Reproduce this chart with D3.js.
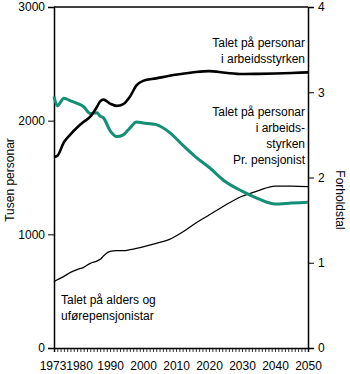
<!DOCTYPE html>
<html lang="en">
<head>
   <meta charset="utf-8">
   <title>Arbeidsstyrken og pensjonistar</title>
   <script src="https://cdn.jsdelivr.net/npm/d3@7/dist/d3.min.js"></script>
   <style type="text/css">
      body { margin: 0; background: #fff; }
      text { font-family: "Liberation Sans", Arial, sans-serif; font-size: 12px; fill: #000; }
   </style>
</head>
<body>
   <script type="text/javascript">

      var w = 350;
      var h = 374;
      var margin = { top: 7, right: 42, bottom: 26, left: 54 };

      // data
      var years = [1973, 1974, 1976, 1978, 1980, 1982, 1984, 1986, 1987, 1988, 1990, 1992, 1994,
                   1996, 1998, 2000, 2004, 2008, 2012, 2016, 2020, 2025, 2030, 2035, 2040, 2045, 2050];
      // thousand persons in the labour force
      var labourForce = [1680, 1690, 1810, 1880, 1940, 1990, 2035, 2120, 2170, 2185, 2150, 2130, 2145,
                         2210, 2310, 2350, 2372, 2395, 2412, 2428, 2436, 2421, 2410, 2412, 2415, 2420, 2425];
      // thousand old age and disability pensioners
      var pensioners = [583, 600, 630, 665, 690, 710, 745, 765, 780, 810, 850, 856, 856,
                        865, 877, 890, 920, 955, 1020, 1100, 1170, 1258, 1335, 1385, 1425, 1425, 1420];
      // labour force per pensioner (right axis)
      var ratio = [2.95, 2.84, 2.93, 2.90, 2.87, 2.83, 2.75, 2.76, 2.72, 2.70, 2.55, 2.48, 2.50,
                   2.58, 2.65, 2.64, 2.62, 2.53, 2.38, 2.24, 2.12, 1.95, 1.84, 1.75, 1.69, 1.70, 1.71];

      var xTickValues = [1973, 1980, 1990, 2000, 2010, 2020, 2030, 2040, 2050];
      var leftTicks = [0, 1000, 2000, 3000];
      var rightTicks = [0, 1, 2, 3, 4];

      var xScale = d3.scaleLinear()
                     .domain([1973, 2050])
                     .range([margin.left, w - margin.right]);

      var yScale = d3.scaleLinear()
                     .domain([0, 3000])
                     .range([h - margin.bottom, margin.top]);

      var rScale = d3.scaleLinear()
                     .domain([0, 4])
                     .range([h - margin.bottom, margin.top]);

      var svg = d3.select("body")
                  .append("svg")
                  .attr("width", w)
                  .attr("height", h);

      var fontFam = "Liberation Sans, Arial, sans-serif";

      // frame top line
      svg.append("line")
         .attr("x1", margin.left).attr("x2", w - margin.right)
         .attr("y1", margin.top).attr("y2", margin.top)
         .attr("stroke", "#000").attr("stroke-width", 1.5);

      // minor year ticks
      var xMinor = d3.axisBottom(xScale)
                     .tickValues(d3.range(1973, 2051))
                     .tickSize(4)
                     .tickFormat("");
      svg.append("g")
         .attr("transform", "translate(0," + (h - margin.bottom) + ")")
         .call(xMinor)
         .call(function(g) {
            g.select(".domain").attr("stroke-width", 1.5);
            g.selectAll(".tick line").attr("stroke-width", 0.8);
         });

      // x labels
      var xAxis = d3.axisBottom(xScale)
                    .tickValues(xTickValues)
                    .tickSize(0)
                    .tickPadding(13)
                    .tickFormat(d3.format("d"));
      svg.append("g")
         .attr("transform", "translate(0," + (h - margin.bottom) + ")")
         .call(xAxis)
         .call(function(g) {
            g.select(".domain").remove();
            g.selectAll("text").attr("font-size", 12).attr("font-family", fontFam)
             .attr("dx", function(d) { return d === 1973 ? -1.5 : (d === 1980 ? 2 : 0); });
         });

      var yAxis = d3.axisLeft(yScale)
                    .tickValues(leftTicks)
                    .tickSize(6)
                    .tickPadding(3)
                    .tickFormat(d3.format("d"));
      svg.append("g")
         .attr("transform", "translate(" + margin.left + ",0)")
         .call(yAxis)
         .call(function(g) {
            g.select(".domain").attr("stroke-width", 1.5);
            g.selectAll("text").attr("font-size", 12).attr("font-family", fontFam);
         });

      var rAxis = d3.axisRight(rScale)
                    .tickValues(rightTicks)
                    .tickSize(6)
                    .tickPadding(4)
                    .tickFormat(d3.format("d"));
      svg.append("g")
         .attr("transform", "translate(" + (w - margin.right) + ",0)")
         .call(rAxis)
         .call(function(g) {
            g.select(".domain").attr("stroke-width", 1.5);
            g.selectAll("text").attr("font-size", 12).attr("font-family", fontFam);
         });

      // lines
      var lineLeft = function(values) {
         return d3.line()
                  .x(function(d, i) { return xScale(years[i]); })
                  .y(function(d) { return yScale(d); })
                  .curve(d3.curveMonotoneX)(values);
      };

      svg.append("path")
         .attr("d", lineLeft(pensioners))
         .attr("fill", "none")
         .attr("stroke", "#000")
         .attr("stroke-width", 1.3);

      svg.append("path")
         .attr("d", d3.line()
                      .x(function(d, i) { return xScale(years[i]); })
                      .y(function(d) { return rScale(d); })
                      .curve(d3.curveMonotoneX)(ratio))
         .attr("fill", "none")
         .attr("stroke", "#138f74")
         .attr("stroke-width", 3);

      svg.append("path")
         .attr("d", lineLeft(labourForce))
         .attr("fill", "none")
         .attr("stroke", "#000")
         .attr("stroke-width", 2.6);

      // series labels
      function label(lines, x, y, anchor) {
         var t = svg.append("text")
                    .attr("x", x)
                    .attr("y", y)
                    .style("text-anchor", anchor);
         lines.forEach(function(s, i) {
            t.append("tspan").attr("x", x).attr("dy", i === 0 ? 0 : 16).text(s);
         });
      }
      label(["Talet på personar", "i arbeidsstyrken"], 305, 47, "end");
      label(["Talet på personar", "i arbeids-", "styrken", "Pr. pensjonist"], 305, 116, "end");
      label(["Talet på alders og", "uførepensjonistar"], 61, 304, "start");

      // axis titles
      svg.append("text")
         .attr("transform", "translate(14," + 180 + ") rotate(-90)")
         .style("text-anchor", "middle")
         .text("Tusen personar");

      svg.append("text")
         .attr("transform", "translate(336," + 200 + ") rotate(90)")
         .style("text-anchor", "middle")
         .text("Forholdstal");

   </script>
</body>
</html>
